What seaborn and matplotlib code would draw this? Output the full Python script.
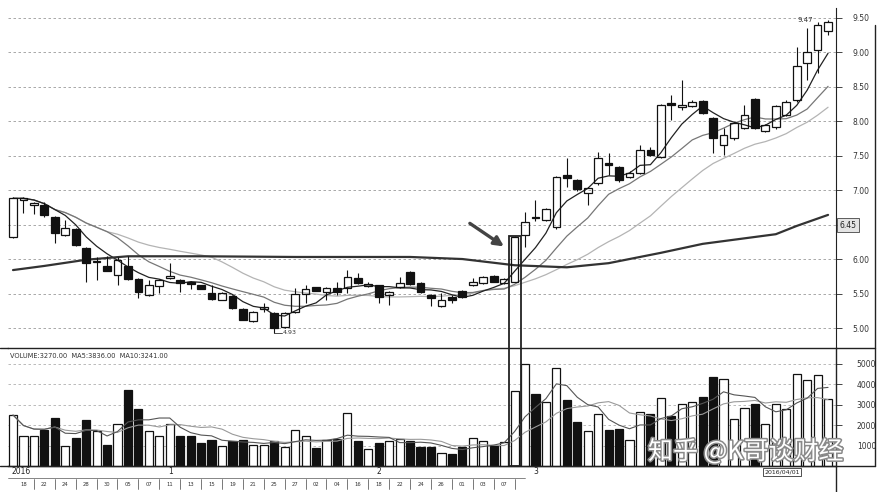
"""Candlestick chart with MA lines and a volume panel (scanned textbook style)."""

import matplotlib

matplotlib.use("Agg")
import matplotlib.patheffects as pe
import matplotlib.pyplot as plt
import numpy as np
import pandas as pd
import seaborn as sns
from matplotlib.lines import Line2D
from matplotlib.patches import Rectangle

# daily candles
opens = [6.32, 6.86, 6.78, 6.78, 6.61, 6.35, 6.43, 6.16, 5.95, 5.90,
         5.77, 5.90, 5.71, 5.48, 5.61, 5.72, 5.70, 5.67, 5.62, 5.51,
         5.41, 5.46, 5.28, 5.10, 5.28, 5.22, 5.01, 5.23, 5.49, 5.59,
         5.52, 5.58, 5.58, 5.72, 5.61, 5.62, 5.48, 5.59, 5.81, 5.65,
         5.48, 5.32, 5.45, 5.54, 5.62, 5.65, 5.75, 5.65, 5.67, 6.35,
         6.60, 6.57, 6.46, 7.22, 7.14, 6.96, 7.10, 7.39, 7.33, 7.19,
         7.25, 7.58, 7.48, 8.26, 8.20, 8.22, 8.29, 8.04, 7.65, 7.75,
         7.90, 8.32, 7.86, 7.91, 8.09, 8.30, 8.84, 9.03, 9.30]
highs = [6.90, 6.90, 6.82, 6.83, 6.62, 6.57, 6.45, 6.17, 6.03, 6.04,
         6.03, 6.04, 5.72, 5.70, 5.71, 5.94, 5.71, 5.68, 5.63, 5.62,
         5.52, 5.48, 5.29, 5.24, 5.36, 5.23, 5.23, 5.58, 5.62, 5.60,
         5.59, 5.67, 5.84, 5.80, 5.66, 5.63, 5.53, 5.74, 5.83, 5.66,
         5.49, 5.51, 5.48, 5.55, 5.72, 5.75, 5.77, 5.73, 6.33, 6.68,
         6.86, 6.74, 7.21, 7.46, 7.16, 7.05, 7.55, 7.54, 7.35, 7.27,
         7.65, 7.62, 8.25, 8.38, 8.59, 8.30, 8.31, 8.06, 7.90, 7.99,
         8.23, 8.34, 7.96, 8.24, 8.30, 9.07, 9.35, 9.43, 9.47]
lows = [6.30, 6.67, 6.65, 6.61, 6.23, 6.34, 6.19, 5.67, 5.70, 5.82,
        5.62, 5.70, 5.43, 5.47, 5.51, 5.71, 5.52, 5.57, 5.56, 5.41,
        5.40, 5.28, 5.11, 5.09, 5.23, 4.93, 5.00, 5.22, 5.36, 5.53,
        5.41, 5.48, 5.51, 5.64, 5.59, 5.36, 5.33, 5.58, 5.63, 5.51,
        5.32, 5.31, 5.36, 5.44, 5.61, 5.64, 5.66, 5.64, 5.66, 6.17,
        6.55, 6.55, 6.44, 7.04, 6.99, 6.78, 7.08, 7.22, 7.12, 7.17,
        7.23, 7.50, 7.46, 8.01, 8.16, 8.20, 8.10, 7.54, 7.51, 7.73,
        7.88, 7.88, 7.84, 7.89, 8.07, 8.28, 8.59, 8.70, 9.25]
closes = [6.88, 6.88, 6.81, 6.64, 6.38, 6.45, 6.20, 5.94, 5.96, 5.83,
          5.99, 5.71, 5.52, 5.62, 5.70, 5.75, 5.65, 5.64, 5.57, 5.42,
          5.51, 5.29, 5.12, 5.23, 5.30, 5.00, 5.22, 5.49, 5.57, 5.54,
          5.58, 5.52, 5.74, 5.65, 5.64, 5.45, 5.52, 5.65, 5.64, 5.52,
          5.43, 5.41, 5.41, 5.45, 5.67, 5.74, 5.67, 5.71, 6.32, 6.54,
          6.59, 6.72, 7.19, 7.17, 7.01, 7.03, 7.46, 7.36, 7.14, 7.25,
          7.58, 7.51, 8.23, 8.23, 8.23, 8.28, 8.12, 7.75, 7.80, 7.97,
          8.09, 7.90, 7.94, 8.22, 8.28, 8.80, 9.00, 9.40, 9.44]
volumes = [2490, 1460, 1460, 1760, 2340, 980, 1370, 2250, 1710, 1020,
           2050, 3710, 2780, 1710, 1460, 2050, 1460, 1460, 1120, 1270,
           980, 1220, 1270, 1020, 1020, 1220, 930, 1760, 1460, 880,
           1270, 1320, 2590, 1220, 830, 1120, 1220, 1320, 1220, 930,
           930, 630, 590, 930, 1370, 1220, 980, 1170, 3660, 4980,
           3510, 3120, 4780, 3220, 2150, 1710, 2540, 1760, 1810, 1270,
           2640, 2540, 3320, 2440, 3030, 3120, 3370, 4340, 4250, 2290,
           2830, 3030, 2050, 3030, 2780, 4490, 4200, 4440, 3270]

ma60_idx = [0, 3, 7, 11, 18, 27, 38, 43, 48, 53, 57, 62, 66, 70, 73, 75, 78]
ma60_val = [5.84, 5.90, 5.99, 6.04, 6.04, 6.03, 6.03, 6.00, 5.91, 5.88,
            5.94, 6.09, 6.22, 6.30, 6.36, 6.48, 6.64]

price_ticks = [5.0, 5.5, 6.0, 6.5, 7.0, 7.5, 8.0, 8.5, 9.0, 9.5]
volume_ticks = [1000, 2000, 3000, 4000, 5000]
month_labels = ["2016", "1", "2", "3"]
month_pos = [0, 15, 35, 50]
day_labels = ["18", "22", "24", "28", "30", "05", "07", "11", "13", "15", "19", "21",
              "25", "27", "02", "04", "16", "18", "22", "24", "26", "01", "03", "07"]
day_pos = [1, 3, 5, 7, 9, 11, 13, 15, 17, 19, 21, 23, 25, 27, 29, 31, 33, 35, 37, 39,
           41, 43, 45, 47]
breakout_day = 48
ma60_tag = "6.45"
date_tag = "2016/04/01"
watermark = "知乎 @K哥谈财经"

W, H = 884, 492


def fx(px):
    return px / W


def fy(py):
    return 1 - py / H


sns.set_theme(style="white")
plt.rcParams["font.family"] = ["DejaVu Sans", "Noto Sans CJK SC"]

df = pd.DataFrame({"open": opens, "high": highs, "low": lows, "close": closes,
                   "volume": volumes})
df["day"] = np.arange(len(df))
df["up"] = df["close"] >= df["open"]
for w in (5, 10, 20):
    df[f"ma{w}"] = df["close"].rolling(w, min_periods=1).mean()
df["vma5"] = df["volume"].rolling(5, min_periods=1).mean()
df["vma10"] = df["volume"].rolling(10, min_periods=1).mean()

fig = plt.figure(figsize=(W / 100, H / 100), dpi=100)
ax = fig.add_axes([fx(8), fy(348), fx(836) - fx(8), fy(8) - fy(348)])
axv = fig.add_axes([fx(8), fy(466), fx(836) - fx(8), fy(348) - fy(466)])
xlim = (-0.48, 78.76)

# ---- price panel ----
for p in price_ticks:
    ax.axhline(p, color="#9a9a9a", lw=0.6, ls=(0, (3, 3)), zorder=0)

body_top = df[["open", "close"]].max(axis=1)
body_bot = df[["open", "close"]].min(axis=1)
ax.vlines(df["day"], body_top, df["high"], color="#111", lw=0.8, zorder=3)
ax.vlines(df["day"], df["low"], body_bot, color="#111", lw=0.8, zorder=3)
body_h = np.maximum(body_top - body_bot, 0.015)
face = np.where(df["up"], "none", "#111")
ax.bar(df["day"], body_h, bottom=body_bot, width=0.74, color=face,
       edgecolor="#111", linewidth=0.9, zorder=4)

sns.lineplot(x=df["day"], y=df["ma20"], ax=ax, color="#b4b4b4", lw=0.9, zorder=2)
sns.lineplot(x=df["day"], y=df["ma10"], ax=ax, color="#777777", lw=0.9, zorder=2)
sns.lineplot(x=df["day"], y=df["ma5"], ax=ax, color="#222222", lw=0.9, zorder=2)
sns.lineplot(x=ma60_idx, y=ma60_val, ax=ax, color="#333333", lw=1.6, zorder=2)

ax.set_xlim(*xlim)
ax.set_ylim(4.71, 9.64)
ax.set_xlabel("")
ax.set_ylabel("")
ax.set_xticks([])
ax.yaxis.tick_right()
ax.set_yticks(price_ticks)
ax.set_yticklabels(["" if p == 6.5 else f"{p:.2f}" for p in price_ticks])
ax.tick_params(axis="y", right=True, length=4, width=0.6, pad=8,
               labelsize=5.5, labelcolor="#333")
for side in ("top", "left", "bottom"):
    ax.spines[side].set_visible(False)
ax.spines["right"].set_color("#222")
ax.spines["right"].set_linewidth(0.8)

ax.text(1.004, 6.49, ma60_tag, transform=ax.get_yaxis_transform(), ha="left",
        va="center", fontsize=5.5, color="#222",
        bbox=dict(boxstyle="square,pad=0.3", fc="#e4e4e4", ec="#444", lw=0.6))

hi_day = int(df["high"].idxmax())
ax.text(hi_day - 1.4, df["high"].max(), f"{df['high'].max():.2f}", ha="right",
        va="center", fontsize=5, color="#333")
lo_day = int(df["low"].idxmin())
ax.plot([lo_day, lo_day + 0.7], [df["low"].min()] * 2, color="#333", lw=0.6)
ax.text(lo_day + 0.8, df["low"].min(), f"{df['low'].min():.2f}", ha="left",
        va="center", fontsize=4.5, color="#333")

ax.annotate("", xy=(breakout_day - 0.8, 6.16), xytext=(breakout_day - 4.5, 6.54),
            arrowprops=dict(arrowstyle="-|>", color="#444", lw=2.4,
                            mutation_scale=14))

# ---- volume panel ----
for v in volume_ticks:
    axv.axhline(v, color="#b0b0b0", lw=0.6, ls=(0, (3, 3)), zorder=0)
vface = np.where(df["up"], "white", "#111")
axv.bar(df["day"], df["volume"], width=0.78, color=vface, edgecolor="#111",
        linewidth=0.9, zorder=3)
sns.lineplot(x=df["day"], y=df["vma10"], ax=axv, color="#9a9a9a", lw=0.8, zorder=4)
sns.lineplot(x=df["day"], y=df["vma5"], ax=axv, color="#555555", lw=0.8, zorder=4)
axv.set_xlim(*xlim)
axv.set_ylim(0, 5760)
axv.set_xlabel("")
axv.set_ylabel("")
axv.set_xticks([])
axv.yaxis.tick_right()
axv.set_yticks(volume_ticks)
axv.set_yticklabels([f"{v}" for v in volume_ticks])
axv.tick_params(axis="y", right=True, length=4, width=0.6, pad=11,
                labelsize=5.5, labelcolor="#333")
axv.spines["left"].set_visible(False)
for side in ("top", "bottom", "right"):
    axv.spines[side].set_color("#222")
    axv.spines[side].set_linewidth(1.0)
axv.text(0.003, 0.93, f"VOLUME:{df['volume'].iloc[-1]:.2f}  MA5:{df['vma5'].iloc[-1]:.2f}"
         f"  MA10:{df['vma10'].iloc[-1]:.2f}", transform=axv.transAxes, ha="left",
         va="center", fontsize=4.8, color="#333")

# highlight box around the breakout day, from its high down to the volume floor
fig.canvas.draw()
to_fig = fig.transFigure.inverted()
x0, y_top = to_fig.transform(ax.transData.transform((breakout_day - 0.55,
                                                     df["high"][breakout_day])))
x1, y_bot = to_fig.transform(axv.transData.transform((breakout_day + 0.65, 0)))
fig.patches.append(Rectangle((x0, y_bot), x1 - x0, y_top - y_bot, fill=False,
                             ec="#222", lw=1.3, transform=fig.transFigure, zorder=10))

# frame pieces outside the axes
for seg in ([(836, 348), (875, 348)], [(0, 466), (875, 466)], [(836, 466), (836, 492)],
            [(875, 25), (875, 466)], [(0, 348), (8, 348)]):
    (a, b), (c, d) = seg
    fig.add_artist(Line2D([fx(a), fx(c)], [fy(b), fy(d)], color="#222", lw=1.0))

# date strip
x_to_px = lambda i: 8 + (i - xlim[0]) * (828 / (xlim[1] - xlim[0]))
for lab, pos in zip(month_labels, month_pos):
    fig.text(fx(x_to_px(pos) - 2), fy(472), lab, fontsize=5.5, color="#222",
             ha="left", va="center")
fig.add_artist(Line2D([fx(8), fx(525)], [fy(478), fy(478)], color="#555", lw=0.5))
for lab, pos in zip(day_labels, day_pos):
    px = x_to_px(pos)
    fig.text(fx(px), fy(484), lab, fontsize=3.8, color="#333", ha="center", va="center")
    fig.add_artist(Line2D([fx(px + 10.4)] * 2, [fy(479), fy(489)], color="#444", lw=0.5))
fig.text(fx(782), fy(472), date_tag, fontsize=4.5, color="#222", ha="center", va="center",
         bbox=dict(boxstyle="square,pad=0.2", fc="white", ec="#333", lw=0.6))

fig.text(fx(648), fy(452), watermark, fontsize=18, color="white", ha="left", va="center",
         family=["Noto Sans CJK SC", "DejaVu Sans"],
         path_effects=[pe.withStroke(linewidth=2.2, foreground="#8a8a8a")], zorder=20)

fig.savefig("out.png", dpi=100, facecolor="white")
